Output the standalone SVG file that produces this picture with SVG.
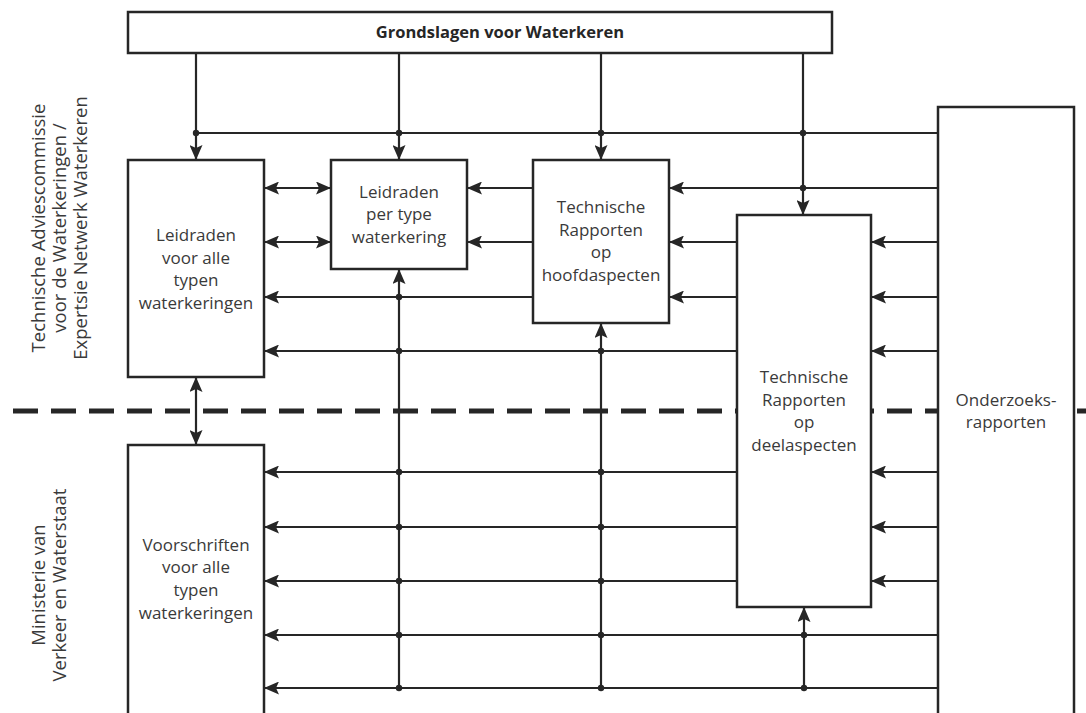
<svg xmlns="http://www.w3.org/2000/svg" width="1086" height="713" viewBox="0 0 1086 713">
<style>
.box{fill:#fff;stroke:#262626;stroke-width:2.5}
.ln{fill:none;stroke:#262626;stroke-width:2.2}
.a{marker-end:url(#ah)}
.d{marker-start:url(#ah);marker-end:url(#ah)}
.t{font-family:"Open Sans","Noto Sans",sans-serif;font-size:17px;fill:#3a3a3a;text-anchor:middle}
.side{font-size:18.5px}
.b{font-weight:bold;font-size:16.5px;fill:#262626}
.dot{fill:#262626}
</style>
<defs>
<marker id="ah" viewBox="0 0 15 13" refX="15" refY="6.5" markerWidth="15" markerHeight="13" markerUnits="userSpaceOnUse" orient="auto-start-reverse">
<path d="M0,0 L15,6.5 L0,13 L3,6.5 z" fill="#262626"/>
</marker>
</defs>
<rect width="1086" height="713" fill="#fff"/>
<line id="divider" x1="13" y1="411" x2="1086" y2="411" stroke="#262626" stroke-width="5" stroke-dasharray="25 13"/>
<g id="labels">
<text class="t side" transform="translate(45,228) rotate(-90)">Technische Adviescommissie</text>
<text class="t side" transform="translate(66,228) rotate(-90)">voor de Waterkeringen /</text>
<text class="t side" transform="translate(87,228) rotate(-90)">Expertsie Netwerk Waterkeren</text>
<text class="t side" transform="translate(45,585) rotate(-90)">Ministerie van</text>
<text class="t side" transform="translate(66,585) rotate(-90)">Verkeer en Waterstaat</text>
</g>
<g id="connectors">
<path class="ln a" d="M196,53 V160"/>
<path class="ln a" d="M399,53 V160"/>
<path class="ln a" d="M601,53 V160"/>
<path class="ln a" d="M803,53 V215"/>
<path class="ln" d="M196,133 H938"/>
<path class="ln a" d="M938,188 H669"/>
<path class="ln a" d="M533,188 H467"/>
<path class="ln d" d="M331,188 H264"/>
<path class="ln a" d="M938,242 H871"/>
<path class="ln a" d="M737,242 H669"/>
<path class="ln a" d="M533,242 H467"/>
<path class="ln d" d="M331,242 H264"/>
<path class="ln a" d="M938,297 H871"/>
<path class="ln a" d="M737,297 H669"/>
<path class="ln a" d="M533,297 H264"/>
<path class="ln a" d="M938,351 H871"/>
<path class="ln a" d="M737,351 H264"/>
<path class="ln a" d="M399,688 V269"/>
<path class="ln a" d="M601,688 V323"/>
<path class="ln a" d="M804,688 V607"/>
<path class="ln a" d="M938,472 H871"/>
<path class="ln a" d="M737,472 H264"/>
<path class="ln a" d="M938,527 H871"/>
<path class="ln a" d="M737,527 H264"/>
<path class="ln a" d="M938,581 H871"/>
<path class="ln a" d="M737,581 H264"/>
<path class="ln a" d="M938,635 H264"/>
<path class="ln a" d="M938,688 H264"/>
<path class="ln d" d="M196,377 V445"/>
<circle class="dot" cx="196" cy="133" r="3.2"/>
<circle class="dot" cx="399" cy="133" r="3.2"/>
<circle class="dot" cx="601" cy="133" r="3.2"/>
<circle class="dot" cx="803" cy="133" r="3.2"/>
<circle class="dot" cx="803" cy="188" r="3.2"/>
<circle class="dot" cx="399" cy="297" r="3.2"/>
<circle class="dot" cx="399" cy="351" r="3.2"/>
<circle class="dot" cx="601" cy="351" r="3.2"/>
<circle class="dot" cx="399" cy="472" r="3.2"/>
<circle class="dot" cx="601" cy="472" r="3.2"/>
<circle class="dot" cx="399" cy="527" r="3.2"/>
<circle class="dot" cx="601" cy="527" r="3.2"/>
<circle class="dot" cx="399" cy="581" r="3.2"/>
<circle class="dot" cx="601" cy="581" r="3.2"/>
<circle class="dot" cx="399" cy="635" r="3.2"/>
<circle class="dot" cx="601" cy="635" r="3.2"/>
<circle class="dot" cx="804" cy="635" r="3.2"/>
<circle class="dot" cx="399" cy="688" r="3.2"/>
<circle class="dot" cx="601" cy="688" r="3.2"/>
<circle class="dot" cx="804" cy="688" r="3.2"/>
</g>
<g id="grondslagen">
<rect class="box" x="128" y="12" width="704" height="41"/>
<text class="t b" x="500" y="38">Grondslagen voor Waterkeren</text>
</g>
<g id="leidraden-alle">
<rect class="box" x="128" y="160" width="136" height="217"/>
<text class="t" x="196" y="241">Leidraden</text>
<text class="t" x="196" y="264">voor alle</text>
<text class="t" x="196" y="286">typen</text>
<text class="t" x="196" y="309">waterkeringen</text>
</g>
<g id="leidraden-type">
<rect class="box" x="331" y="160" width="136" height="109"/>
<text class="t" x="399" y="198">Leidraden</text>
<text class="t" x="399" y="220">per type</text>
<text class="t" x="399" y="243">waterkering</text>
</g>
<g id="tr-hoofd">
<rect class="box" x="533" y="160" width="136" height="163"/>
<text class="t" x="601" y="213">Technische</text>
<text class="t" x="601" y="236">Rapporten</text>
<text class="t" x="601" y="258">op</text>
<text class="t" x="601" y="281">hoofdaspecten</text>
</g>
<g id="tr-deel">
<rect class="box" x="737" y="215" width="134" height="392"/>
<text class="t" x="804" y="383">Technische</text>
<text class="t" x="804" y="406">Rapporten</text>
<text class="t" x="804" y="428">op</text>
<text class="t" x="804" y="451">deelaspecten</text>
</g>
<g id="onderzoek">
<rect class="box" x="938" y="107" width="136" height="620"/>
<text class="t" x="1006" y="406">Onderzoeks-</text>
<text class="t" x="1006" y="428">rapporten</text>
</g>
<g id="voorschriften">
<rect class="box" x="128" y="445" width="136" height="282"/>
<text class="t" x="196" y="551">Voorschriften</text>
<text class="t" x="196" y="573">voor alle</text>
<text class="t" x="196" y="596">typen</text>
<text class="t" x="196" y="619">waterkeringen</text>
</g>
</svg>
